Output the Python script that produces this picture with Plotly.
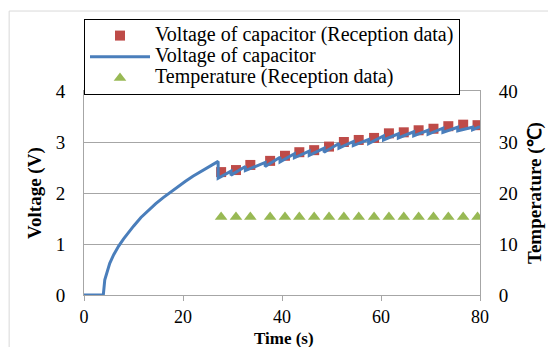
import plotly.graph_objects as go

# Reception times (s)
rx_time = [27.7, 30.7, 33.6, 37.6, 40.6, 43.5, 46.5, 49.5, 52.5, 55.5,
           58.6, 61.6, 64.6, 67.6, 70.6, 73.6, 76.6, 79.5]
# Voltage of capacitor (Reception data), V
rx_voltage = [2.41, 2.45, 2.55, 2.63, 2.73, 2.80, 2.84, 2.91, 3.00, 3.04,
              3.08, 3.17, 3.19, 3.23, 3.26, 3.31, 3.34, 3.33]
# Temperature (Reception data), degC
rx_temp = [15.3] * 18

# Voltage of capacitor (continuous)
line_t = [0, 3.9, 4.2, 4.6, 5.2, 6.0, 7.0, 8.0, 9.0, 10.0, 11.5, 13.0,
          14.5, 16.0, 17.5, 19.0, 20.5, 22.0, 23.5, 25.0,
          27.1, 27.1, 29.7, 29.7, 32.6, 32.6, 36.6, 36.6, 39.6, 39.6,
          42.5, 42.5, 45.5, 45.5, 48.5, 48.5, 51.5, 51.5, 54.4, 54.4,
          57.5, 57.5, 60.5, 60.5, 63.5, 63.5, 66.6, 66.6, 69.5, 69.5,
          72.5, 72.5, 75.5, 75.5, 78.5, 78.5, 80]
line_v = [0, 0, 0.30, 0.45, 0.62, 0.79, 0.96, 1.10, 1.23, 1.35, 1.52, 1.66,
          1.79, 1.91, 2.02, 2.13, 2.23, 2.33, 2.42, 2.51,
          2.62, 2.29, 2.43, 2.35, 2.52, 2.44, 2.60, 2.52, 2.70, 2.61,
          2.77, 2.69, 2.82, 2.74, 2.88, 2.80, 2.97, 2.88, 3.01, 2.93,
          3.05, 2.97, 3.12, 3.04, 3.16, 3.08, 3.20, 3.12, 3.23, 3.15,
          3.27, 3.19, 3.29, 3.22, 3.29, 3.24, 3.30]

x_ticks = [0, 20, 40, 60, 80]
y_ticks = [0, 1, 2, 3, 4]
y2_ticks = [0, 10, 20, 30, 40]

FONT = '"Liberation Serif", "Times New Roman", Times, serif'
GRID = "#A6A6A6"

def lg(s):
    return '<span style="font-size:20px">' + s + '</span>'

fig = go.Figure()
fig.add_trace(go.Scatter(
    x=rx_time, y=rx_voltage, mode="markers", name=lg("Voltage of capacitor (Reception data)"),
    marker=dict(symbol="square", size=10, color="#BE4B48"), yaxis="y"))
fig.add_trace(go.Scatter(
    x=line_t, y=line_v, mode="lines", name=lg("Voltage of capacitor"),
    line=dict(color="#4A7EBB", width=3), yaxis="y"))
fig.add_trace(go.Scatter(
    x=rx_time, y=rx_temp, mode="markers", name=lg("Temperature (Reception data)"),
    marker=dict(symbol="triangle-up", size=11, color="#98B954"), yaxis="y2"))

fig.update_layout(
    width=548, height=347,
    margin=dict(l=84, r=68, t=91, b=52),
    paper_bgcolor="white", plot_bgcolor="white",
    font=dict(family=FONT, size=19, color="black"),
    showlegend=True,
    legend=dict(
        x=0.0, y=1.353, xanchor="left", yanchor="top",
        bordercolor="black", borderwidth=1, bgcolor="white",
        font=dict(family=FONT, size=14, color="black"),
        itemwidth=60, tracegroupgap=0,
    ),
    xaxis=dict(
        range=[0, 80], tickvals=x_ticks, showgrid=False,
        showline=True, linecolor=GRID, linewidth=1, mirror=True,
        ticks="outside", ticklen=5, tickcolor=GRID, ticklabelstandoff=0,
        zeroline=False, tickfont=dict(family=FONT, size=18),
    ),
    yaxis=dict(
        range=[0, 4], tickvals=y_ticks, showgrid=True, gridcolor=GRID,
        showline=True, linecolor=GRID, linewidth=1,
        ticks="", ticklabelstandoff=14, zeroline=False,
        tickfont=dict(family=FONT, size=19),
    ),
    yaxis2=dict(
        range=[0, 40], tickvals=y2_ticks, overlaying="y", side="right",
        showgrid=False, showline=True, linecolor=GRID, linewidth=1,
        ticks="", ticklabelstandoff=14, zeroline=False,
        tickfont=dict(family=FONT, size=19),
    ),
    annotations=[
        dict(text="<b>Voltage (V)</b>", xref="paper", yref="paper",
             x=-0.124, y=0.5, textangle=-90, showarrow=False,
             font=dict(family=FONT, size=19), xanchor="center", yanchor="middle"),
        dict(text="<b>Temperature (℃)</b>", xref="paper", yref="paper",
             x=1.139, y=0.5, textangle=-90, showarrow=False,
             font=dict(family=FONT, size=19), xanchor="center", yanchor="middle"),
        dict(text="<b>Time (s)</b>", xref="paper", yref="paper",
             x=0.505, y=-0.213, showarrow=False,
             font=dict(family=FONT, size=17), xanchor="center", yanchor="middle"),
    ],
    shapes=[
        dict(type="rect", xref="paper", yref="paper",
             x0=-0.189, x1=1.25, y0=-0.3, y1=1.392,
             line=dict(color="#D9D9D9", width=1), layer="below"),
    ],
)

fig.write_html("out.html")
